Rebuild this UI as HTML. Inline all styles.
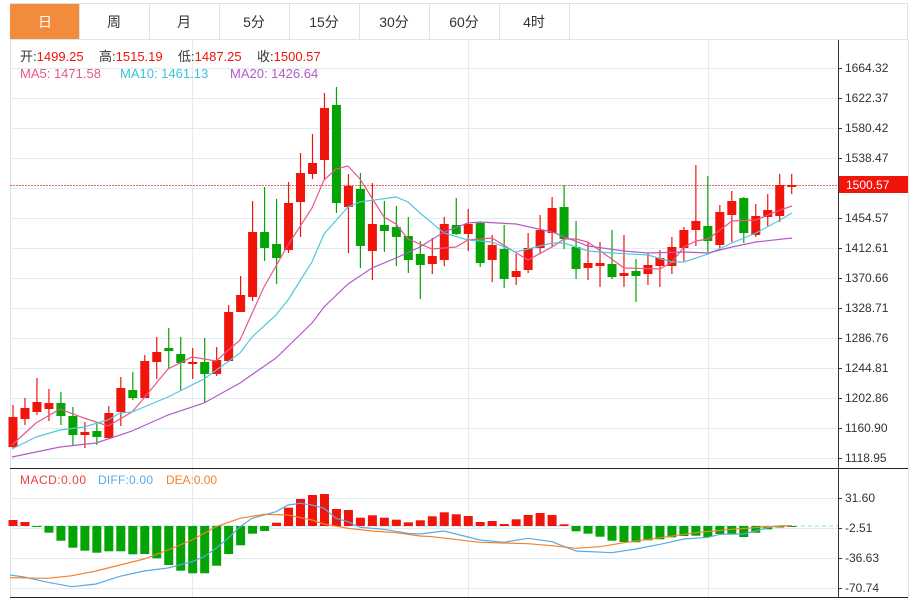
<!DOCTYPE html>
<html><head><meta charset="utf-8"><style>
body{margin:0;background:#fff;width:915px;height:601px;overflow:hidden;font-family:"Liberation Sans","Noto Sans CJK SC",sans-serif;}
svg{position:absolute;left:0;top:0}
</style></head><body>
<svg id="s" width="915" height="601" xmlns="http://www.w3.org/2000/svg" font-family="Liberation Sans, Noto Sans CJK SC, sans-serif">
<rect x="0" y="0" width="915" height="601" fill="#fff"/>
<rect x="10.5" y="3.5" width="897" height="36" fill="#fff" stroke="#dde3ea"/>
<rect x="10" y="4" width="69" height="35" fill="#f28c3c"/>
<g stroke="#dde3ea"><line x1="149.5" y1="4" x2="149.5" y2="39"/><line x1="219.5" y1="4" x2="219.5" y2="39"/><line x1="289.5" y1="4" x2="289.5" y2="39"/><line x1="359.5" y1="4" x2="359.5" y2="39"/><line x1="429.5" y1="4" x2="429.5" y2="39"/><line x1="499.5" y1="4" x2="499.5" y2="39"/><line x1="569.5" y1="4" x2="569.5" y2="39"/><line x1="79.5" y1="4" x2="79.5" y2="39"/></g>
<g font-size="14" text-anchor="middle" fill="#333">
<text x="45" y="27" fill="#fff">日</text><text x="114" y="27">周</text><text x="184" y="27">月</text><text x="254" y="27">5分</text><text x="324" y="27">15分</text><text x="394" y="27">30分</text><text x="464" y="27">60分</text><text x="534" y="27">4时</text>
</g>
<line x1="10.5" y1="40" x2="10.5" y2="598" stroke="#dde3ea"/>
<line x1="908.5" y1="40" x2="908.5" y2="598" stroke="#dde3ea"/>
<g id="grid" stroke="#e3ebf2"></g>
<g id="plot"></g>
<line x1="838.5" y1="40" x2="838.5" y2="598" stroke="#333"/>
<line x1="10" y1="468.5" x2="908" y2="468.5" stroke="#222"/>
<line x1="10" y1="597.5" x2="908" y2="597.5" stroke="#222"/>
<g font-size="12" fill="#333" id="ax">
<text x="845" y="72">1664.32</text><text x="845" y="102">1622.37</text><text x="845" y="132">1580.42</text><text x="845" y="162">1538.47</text><text x="845" y="222">1454.57</text><text x="845" y="252">1412.61</text><text x="845" y="282">1370.66</text><text x="845" y="312">1328.71</text><text x="845" y="342">1286.76</text><text x="845" y="372">1244.81</text><text x="845" y="402">1202.86</text><text x="845" y="432">1160.90</text><text x="845" y="462">1118.95</text>
<text x="845" y="502">31.60</text><text x="845" y="532">-2.51</text><text x="845" y="562">-36.63</text><text x="845" y="592">-70.74</text>
</g>
<rect x="839" y="176" width="69" height="17" fill="#f0140a"/>
<text x="846" y="189" font-size="12" fill="#fff">1500.57</text>
<g font-size="13">
<text x="20" y="61" fill="#333">开:<tspan fill="#f0140a">1499.25</tspan></text>
<text x="99" y="61" fill="#333">高:<tspan fill="#f0140a">1515.19</tspan></text>
<text x="178" y="61" fill="#333">低:<tspan fill="#f0140a">1487.25</tspan></text>
<text x="257" y="61" fill="#333">收:<tspan fill="#f0140a">1500.57</tspan></text>
<text x="20" y="78" fill="#e8578c">MA5: 1471.58</text>
<text x="120" y="78" fill="#3cc3d8">MA10: 1461.13</text>
<text x="230" y="78" fill="#b05cc8">MA20: 1426.64</text>
</g>
<g font-size="12">
<text x="20" y="484" fill="#e84040" textLength="66">MACD:0.00</text>
<text x="98" y="484" fill="#5aa9e6" textLength="55">DIFF:0.00</text>
<text x="166" y="484" fill="#f5822a" textLength="51">DEA:0.00</text>
</g>
</svg>
<script>
var NS="http://www.w3.org/2000/svg";
function el(p,t,a){var e=document.createElementNS(NS,t);for(var k in a)e.setAttribute(k,a[k]);p.appendChild(e);return e;}
var g=document.getElementById('grid'),p=document.getElementById('plot');
[68,98,128,158,188,218,248,278,308,338,368,398,428,458,498,528,558,588].forEach(function(y){el(g,'line',{x1:10,x2:838,y1:y+.5,y2:y+.5});el(g,'line',{x1:838,x2:842,y1:y+.5,y2:y+.5,stroke:'#333'});});
[192,468,708].forEach(function(x){el(g,'line',{x1:x+.5,x2:x+.5,y1:40,y2:597});});
el(p,'line',{x1:10,x2:838,y1:185.5,y2:185.5,stroke:'#f06060','stroke-dasharray':'2,1'});
var C=[
['R',417,447,405,448],['R',408,419,398,425],['R',402,412,378,415],['R',403,409,389,421],['G',403,416,392,425],['G',416,435,407,445],['R',432,435,422,448],['G',431,437,422,445],['R',413,438,406,438],['R',388,412,377,426],
['G',390,398,372,400],['R',361,398,355,398],['R',352,362,337,379],['G',348,351,328,369],['G',354,363,337,390],['R',362,364,348,379],['G',362,374,338,403],['R',360,374,347,376],['R',312,361,305,362],['R',295,312,276,312],
['R',232,297,201,301],['G',232,248,187,261],['G',244,258,199,284],['R',203,250,182,253],['R',173,202,153,237],['R',163,174,134,179],['R',108,160,93,180],['G',105,203,87,213],['R',186,207,174,253],['G',189,246,173,268],
['R',224,251,183,280],['G',225,231,201,252],['G',227,237,206,266],['G',236,260,217,273],['G',254,265,241,299],['R',256,264,238,274],['R',224,260,217,266],['G',225,234,198,235],['R',224,234,209,251],['G',223,263,222,267],
['R',245,260,235,282],['G',249,279,225,288],['R',271,277,254,285],['R',248,270,233,273],['R',230,248,215,254],['R',208,233,197,247],['G',207,239,185,249],['G',247,269,221,279],['R',263,268,242,280],['R',263,266,242,287],
['G',264,277,230,279],['R',273,276,235,287],['G',271,276,259,302],['R',265,274,253,285],['R',258,266,250,287],['R',247,266,237,274],['R',230,248,227,261],['R',221,230,165,246],['G',226,241,176,252],['R',212,245,205,250],
['R',201,215,191,242],['G',198,233,197,243],['R',216,235,204,237],['R',210,217,194,226],['R',185,216,174,222],['R',185,187,174,194]];
function X(i){return 13+i*11.98;}
C.forEach(function(c,i){var col=c[0]=='R'?'#f0140a':'#04a404';var x=X(i);
el(p,'line',{x1:x,x2:x,y1:c[3],y2:c[4],stroke:col,'stroke-width':1.2});
el(p,'rect',{x:x-4.5,y:c[1],width:9,height:Math.max(2,c[2]-c[1]),fill:col});});
function pl(pts,col){el(p,'polyline',{points:pts.map(function(a){return a.join(',')}).join(' '),fill:'none',stroke:col,'stroke-width':1.2});}
pl([[12,445],[36,423],[60,409],[84,418],[108,426],[132,412],[144,398],[168,369],[192,357],[216,361],[240,340],[264,287],[288,245],[312,208],[324,180],[336,169],[348,166],[360,179],[384,217],[396,224],[408,239],[420,244],[432,249],[456,247],[468,240],[492,238],[528,260],[552,247],[564,239],[576,239],[588,242],[624,268],[660,269],[672,262],[684,247],[696,241],[708,239],[732,221],[756,220],[780,210],[792,206]],'#e8578c');
pl([[12,449],[36,437],[60,430],[84,427],[108,420],[120,413],[132,412],[168,397],[192,385],[204,379],[240,353],[252,337],[276,315],[288,300],[312,262],[324,234],[348,207],[360,202],[396,197],[408,202],[420,213],[444,233],[468,240],[492,242],[516,252],[552,243],[564,243],[588,251],[612,253],[648,255],[672,262],[684,262],[708,254],[732,243],[756,233],[780,220],[792,213]],'#4fc8de');
pl([[12,457],[60,447],[96,443],[132,431],[168,415],[204,403],[240,383],[276,358],[312,323],[324,307],[348,284],[372,268],[396,258],[420,247],[444,232],[468,223],[480,222],[516,224],[552,232],[588,246],[624,251],[648,253],[684,252],[708,253],[732,247],[756,242],[792,238]],'#b05cc8');
var Z=526;
el(p,'line',{x1:10,x2:838,y1:Z,y2:Z,stroke:'#9fd8e8','stroke-dasharray':'4,3'});
var M=[520,522,527,532.7,540.7,547.7,550.7,552.7,551.3,551.3,554.3,554,558.3,565,570.7,573.3,573.3,565.7,554,545.3,533.7,531,522.7,507.7,499,495,494,509,510,517.7,515.3,517.7,519.7,522.3,520.3,516.3,512.3,514.3,516,522,521,524,519.3,515,513,515,524.3,531.3,533.7,536.7,540.7,542,542.3,540.3,539.3,537.3,536,535.7,537,534,533.7,537,532.7,529.3,527.5,526];
M.forEach(function(v,i){var x=X(i);var up=v<Z;el(p,'rect',{x:x-4.5,y:Math.min(v,Z),width:9,height:Math.max(1,Math.abs(v-Z)),fill:up?'#f0140a':'#04a404'});});
pl([[10,575],[24,577],[48,582.3],[72,586.7],[96,584],[120,576.3],[144,571],[168,568],[192,561.7],[204,556.7],[216,548.3],[228,538.3],[240,526.7],[252,518.3],[264,515],[276,511.7],[288,505],[300,503.3],[312,505],[324,508.3],[336,518.3],[348,521.7],[360,527.3],[384,529.3],[408,533.3],[420,534],[444,531],[480,540],[504,542.3],[528,538.3],[552,541.7],[576,551],[612,552.7],[636,549],[660,544.3],[684,539],[708,537.3],[720,534.3],[744,534],[768,527.7],[780,525.7],[792,525.7]],'#5aa9e6');
pl([[10,577.7],[48,578.3],[72,575.7],[96,571],[120,565],[144,559],[168,550],[192,540],[216,526.7],[240,518.3],[264,514.3],[288,515],[312,520],[324,524],[348,528.3],[372,531],[396,532.7],[420,536],[432,536.7],[480,542.3],[528,543.7],[552,545.7],[576,548.3],[600,546.7],[624,542.7],[660,537.7],[696,532.7],[732,529.3],[768,526.7],[792,525.7]],'#f5822a');
</script>
</body></html>
